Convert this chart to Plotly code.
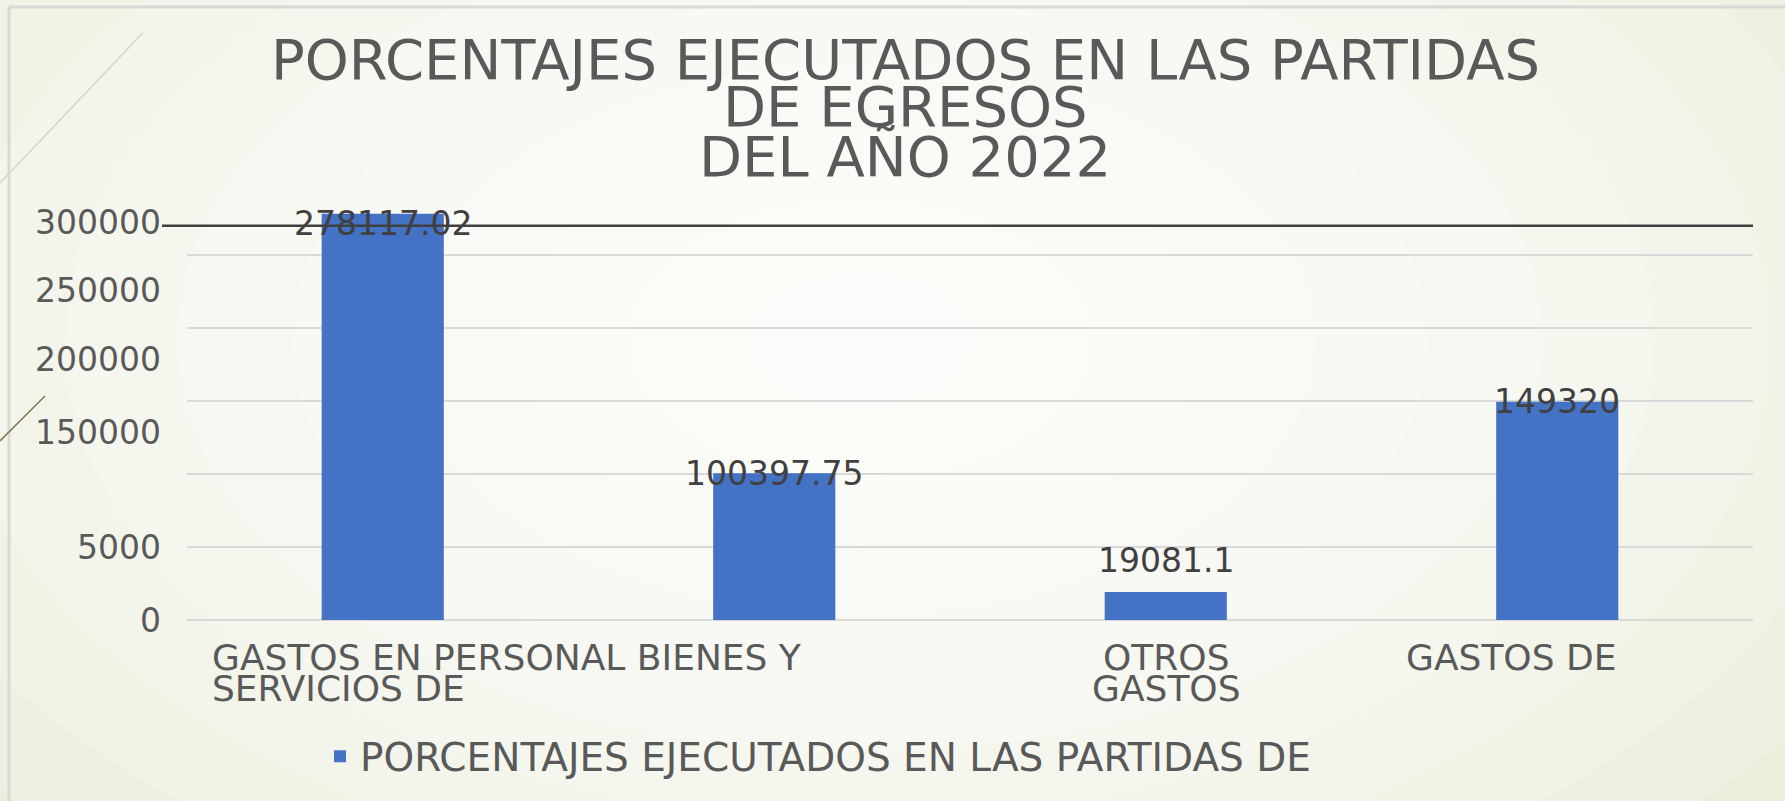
import plotly.graph_objects as go

# ---------------- data ----------------
CATEGORIES = ["GASTOS EN PERSONAL", "BIENES Y SERVICIOS DE", "OTROS GASTOS", "GASTOS DE"]
VALUES = [278117.02, 100397.75, 19081.1, 149320]
SERIES_NAME = "PORCENTAJES EJECUTADOS EN LAS PARTIDAS DE"
TITLE_LINES = ["PORCENTAJES EJECUTADOS EN LAS PARTIDAS", "DE EGRESOS", "DEL AÑO 2022"]
# visible category label lines as printed in the picture
CATEGORY_LABEL_LINES = [["GASTOS EN PERSONAL BIENES Y", "SERVICIOS DE"], [], ["OTROS", "GASTOS"], ["GASTOS DE"]]
# y tick labels as printed (they do not sit on the gridlines in the picture)
TICK_TEXT = ["0", "5000", "150000", "200000", "250000", "300000"]
TICK_AT = [0, 50000, 128500, 178200, 225300, 272300]
GRID_STEP = 50000


def fmt(v):
    s = repr(float(v))
    if s.endswith(".0"):
        s = s[:-2]
    return s


# ---------------- geometry / style ----------------
W, H = 1785, 801
ML, MR, MT, MB = 187, 32, 200, 179
PW, PH = W - ML - MR, H - MT - MB
PX_PER_GRID = 73.4
YMAX = PH / PX_PER_GRID * GRID_STEP
FONT = "DejaVu Sans"
GREY = "#595959"
DARK = "#404040"
BLUE = "#4472c4"


def px(p):
    return (p - ML) / PW


def py(p):
    return (H - MB - p) / PH


fig = go.Figure()
fig.add_trace(go.Bar(
    x=CATEGORIES, y=VALUES, name=SERIES_NAME,
    marker=dict(color=BLUE, line=dict(width=0)),
    width=0.312, showlegend=True,
))
# invisible trace to carry the printed tick labels on an overlaid axis
fig.add_trace(go.Scatter(x=CATEGORIES, y=VALUES, yaxis="y2", mode="none",
                         showlegend=False, hoverinfo="skip"))

shapes = []
# background radial-ish gradient
for k in range(11):
    f = 1 - k / 11
    cx, cy = 860, 340
    rx, ry = 1250 * f, 760 * f
    shapes.append(dict(type="circle", xref="paper", yref="paper", layer="below",
                       x0=px(cx - rx), x1=px(cx + rx), y0=py(cy + ry), y1=py(cy - ry),
                       fillcolor="white", opacity=0.2, line=dict(width=0)))
# slide frame lines
shapes.append(dict(type="line", xref="paper", yref="paper", x0=px(9), x1=px(1790), y0=py(6), y1=py(6),
                   line=dict(color="#d8d9d6", width=3)))
shapes.append(dict(type="line", xref="paper", yref="paper", x0=px(9), x1=px(9), y0=py(6), y1=py(805),
                   line=dict(color="#d8d9d6", width=3)))
# decorative diagonal strokes
shapes.append(dict(type="line", xref="paper", yref="paper", x0=px(0), x1=px(143), y0=py(183), y1=py(32),
                   line=dict(color="#d3d6c4", width=1.5)))
shapes.append(dict(type="line", xref="paper", yref="paper", x0=px(0), x1=px(45), y0=py(442), y1=py(397),
                   line=dict(color="#857656", width=1.5)))
# dark horizontal rule near the top of the plot
shapes.append(dict(type="line", xref="paper", yref="y", x0=px(162), x1=1.0, y0=269800, y1=269800,
                   line=dict(color=DARK, width=2.5), layer="above"))

annotations = []
# title lines
for line, yc in zip(TITLE_LINES, [59, 106, 156]):
    annotations.append(dict(text=line, xref="paper", yref="paper", x=px(905), y=py(yc),
                            xanchor="center", yanchor="middle", showarrow=False,
                            font=dict(family=FONT, size=56, color=GREY)))
# data labels
for cat, v, ys in zip(CATEGORIES, VALUES, [-10, 0, 32, 0]):
    annotations.append(dict(text=fmt(v), xref="x", yref="y", x=cat, y=v, yshift=ys,
                            xanchor="center", yanchor="middle", showarrow=False,
                            font=dict(family=FONT, size=33, color=DARK)))
# category labels
label_pos = [(210, "left"), (None, "center"), (1166, "center"), (1511, "center")]
for lines, (xp, anc) in zip(CATEGORY_LABEL_LINES, label_pos):
    for line, yc in zip(lines, [660, 691]):
        annotations.append(dict(text=line, xref="paper", yref="paper", x=px(xp), y=py(yc),
                                xanchor=anc, yanchor="middle", showarrow=False,
                                font=dict(family=FONT, size=36, color=GREY)))

fig.update_layout(
    width=W, height=H,
    margin=dict(l=ML, r=MR, t=MT, b=MB, pad=0),
    paper_bgcolor="#e5ead2",
    plot_bgcolor="rgba(0,0,0,0)",
    font=dict(family=FONT, color=GREY),
    showlegend=True,
    legend=dict(orientation="h", x=px(320), y=py(759), xanchor="left", yanchor="middle",
                bgcolor="rgba(0,0,0,0)", font=dict(family=FONT, size=39, color=GREY)),
    xaxis=dict(range=[-0.5, 3.5], showgrid=False, showticklabels=False, showline=False,
               zeroline=False, fixedrange=True),
    yaxis=dict(range=[0, YMAX], tick0=0, dtick=GRID_STEP, showgrid=True, gridcolor="#d9d9d9",
               gridwidth=2, zeroline=True, zerolinecolor="#d9d9d9", zerolinewidth=2,
               showticklabels=False, showline=False),
    yaxis2=dict(range=[0, YMAX], overlaying="y", side="left", tickmode="array",
                tickvals=TICK_AT, ticktext=TICK_TEXT, showgrid=False, zeroline=False,
                showline=False, ticks="", ticklabelstandoff=25,
                tickfont=dict(family=FONT, size=33, color=GREY)),
    shapes=shapes,
    annotations=annotations,
    bargap=0.69,
)

fig.write_html("out.html", config={"displayModeBar": False},
               post_script="document.body.style.margin='0';")
